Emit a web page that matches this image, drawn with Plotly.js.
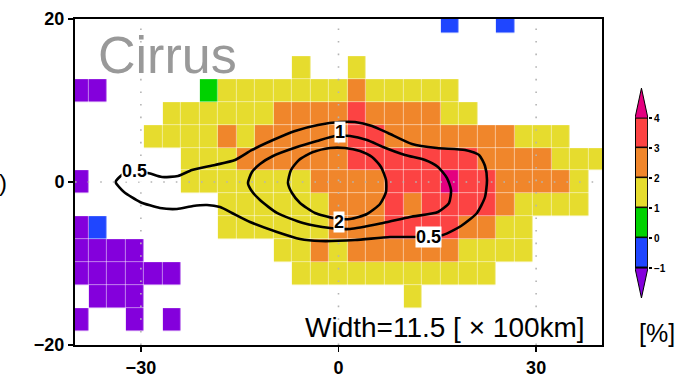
<!DOCTYPE html>
<html>
<head>
<meta charset="utf-8">
<script src="https://cdn.plot.ly/plotly-3.0.1.min.js"></script>
<style>
  html, body { margin: 0; padding: 0; background: #fff; }
  #chart { width: 682px; height: 377px; }
</style>
</head>
<body>
<div id="chart"></div>
<script>
// Composite anomaly [%] on a 2.8125-degree grid, relative to the system centre
const cellStep = 2.8125;
const colOffsets = [-14,-13,-12,-11,-10,-9,-8,-7,-6,-5,-4,-3,-2,-1,0,1,2,3,4,5,6,7,8,9,10,11,12,13,14];
const rowOffsets = [-7,-6,-5,-4,-3,-2,-1,0,1,2,3,4,5,6,7];

// class values (bin centres)
const P = -1.5, B = -0.5, G = 0.5, Y = 1.5, O = 2.5, R = 3.5, M = 4.5, n = null;

// rows from south (-7) to north (+7); columns from west (-14) to east (+14)
const rowS7 = [n,n,n,n,n,n,n,n,n,n,n,n,n,n,n,n,n,n,n,n,n,n,n,n,n,n,n,n,n];
const rowS6 = [P,n,n,P,n,P,n,n,n,n,n,n,n,n,n,n,n,n,n,n,n,n,n,n,n,n,n,n,n];
const rowS5 = [n,P,P,P,n,n,n,n,n,n,n,n,n,n,n,n,n,n,Y,n,n,n,n,n,n,n,n,n,n];
const rowS4 = [P,P,P,P,P,P,n,n,n,n,n,n,Y,Y,Y,Y,Y,Y,Y,Y,Y,Y,Y,n,n,n,n,n,n];
const rowS3 = [P,P,P,P,n,n,n,n,n,n,n,Y,Y,O,Y,O,O,O,O,O,O,Y,Y,Y,Y,n,n,n,n];
const rowS2 = [P,B,n,n,n,n,n,n,Y,Y,Y,Y,Y,Y,O,O,O,R,R,R,R,O,O,Y,Y,n,n,n,n];
const rowS1 = [n,n,n,n,n,n,n,n,Y,Y,Y,Y,Y,Y,O,O,O,R,O,R,R,R,R,O,Y,Y,Y,Y,n];
const row0  = [P,n,n,n,n,n,Y,Y,Y,Y,Y,Y,Y,O,O,O,O,R,R,R,M,R,R,O,O,O,O,Y,n];
const rowN1 = [n,n,n,n,n,n,Y,Y,Y,O,O,O,O,O,O,R,R,R,R,R,R,R,O,O,O,O,Y,Y,Y];
const rowN2 = [n,n,n,n,Y,Y,Y,Y,O,Y,O,O,O,O,O,R,R,O,O,O,O,O,O,O,Y,Y,Y,n,n];
const rowN3 = [n,n,n,n,n,Y,Y,Y,Y,Y,Y,O,O,O,O,R,O,O,O,O,Y,Y,n,n,n,n,n,n,n];
const rowN4 = [P,P,n,n,n,n,n,G,Y,Y,Y,Y,Y,Y,Y,O,Y,Y,Y,Y,Y,n,n,n,n,n,n,n,n];
const rowN5 = [n,n,n,n,n,n,n,n,n,n,n,n,Y,n,n,Y,n,n,n,n,n,n,n,n,n,n,n,n,n];
const rowN6 = [n,n,n,n,n,n,n,n,n,n,n,n,n,n,n,n,n,n,n,n,n,n,n,n,n,n,n,n,n];
const rowN7 = [n,n,n,n,n,n,n,n,n,n,n,n,n,n,n,n,n,n,n,n,B,n,n,B,n,n,n,n,n];

// contour lines of cloud frequency (0.5, 1, 2)
const c05x = [-33.78,-32.87,-30.89,-28.92,-26.79,-24.36,-22.24,-18.75,-15.71,-13.13,-9.94,-6.60,-3.11,0.23,2.50,5.09,7.51,11.16,14.95,19.20,21.33,22.24,22.54,22.24,21.02,18.60,15.86,12.37,7.82,2.50,-2.81,-5.84,-9.34,-13.43,-16.17,-17.99,-19.96,-22.09,-24.52,-27.10,-30.13,-32.56,-33.78,-33.78];
const c05y = [0.12,0.86,1.23,1.10,0.61,0.74,1.47,2.09,2.70,3.93,5.15,6.26,6.99,7.36,7.36,6.87,6.01,4.66,4.17,3.93,3.31,1.96,0.25,-1.84,-3.80,-5.40,-6.50,-6.75,-6.75,-7.12,-7.24,-6.99,-6.13,-4.91,-3.80,-3.07,-2.82,-2.94,-3.31,-3.19,-2.45,-1.23,-0.12,0.12];
const c1x = [-13.74,-13.13,-11.92,-9.94,-6.30,-3.26,-0.53,1.75,4.33,6.76,10.09,13.13,15.10,16.47,17.08,16.77,15.10,10.85,6.76,1.75,-1.29,-5.39,-9.34,-11.92,-13.28,-13.74];
const c1y = [-0.12,1.23,2.21,3.19,4.29,5.03,5.64,5.64,5.15,4.29,3.31,2.70,1.84,0.49,-0.98,-2.58,-3.68,-4.29,-5.03,-5.77,-5.64,-5.03,-3.80,-2.21,-0.98,-0.12];
const c2x = [-7.67,-7.21,-6.00,-3.87,-1.29,0.99,3.26,5.09,6.45,7.21,7.21,6.30,4.33,1.75,-0.83,-3.57,-5.84,-7.06,-7.67];
const c2y = [-0.12,1.47,2.70,3.68,4.17,4.17,3.80,3.07,1.84,0.25,-1.23,-2.70,-3.93,-4.54,-4.42,-3.80,-2.58,-1.35,-0.12];

// contour label text and positions on the lines
const labelText = ['0.5', '1', '2', '0.5'];
const labelX = [-30.9, 0.23, 0.08, 13.59];
const labelY = [1.35, 6.13, -4.91, -6.75];

// colour bar classes
const barLevels = [-0.5, 0.5, 1.5, 2.5, 3.5];
const barTicks = [-1, 0, 1, 2, 3, 4];

const classColors = ['#8400dc', '#1f46ff', '#00d200', '#e6dc2e', '#f0862b', '#fc4343', '#e4007f'];
const zMin = -2, zMax = 5;
const scale = [];
classColors.forEach((c, i) => {
  scale.push([i / classColors.length, c]);
  scale.push([(i + 1) / classColors.length, c]);
});

const xCentres = colOffsets.map(k => k * cellStep);
const yCentres = rowOffsets.map(j => j * cellStep);
const zGrid = [rowS7, rowS6, rowS5, rowS4, rowS3, rowS2, rowS1, row0, rowN1, rowN2, rowN3, rowN4, rowN5, rowN6, rowN7];

const contourLine = {color: '#000', width: 2.6, shape: 'spline', smoothing: 0.6};

const traces = [
  {
    type: 'heatmap', x: xCentres, y: yCentres, z: zGrid,
    colorscale: scale, zmin: zMin, zmax: zMax, showscale: false,
    xgap: 0.5, ygap: 0.5, hoverinfo: 'skip'
  },
  {type: 'scatter', mode: 'lines', x: c05x, y: c05y, line: contourLine, hoverinfo: 'skip', showlegend: false},
  {type: 'scatter', mode: 'lines', x: c1x, y: c1y, line: contourLine, hoverinfo: 'skip', showlegend: false},
  {type: 'scatter', mode: 'lines', x: c2x, y: c2y, line: contourLine, hoverinfo: 'skip', showlegend: false},
  // colour bar
  {
    type: 'heatmap', x: [0], y: barLevels, z: barLevels.map(v => [v]),
    colorscale: scale, zmin: zMin, zmax: zMax, showscale: false,
    xgap: 2, ygap: 1.5, xaxis: 'x2', yaxis: 'y2', hoverinfo: 'skip'
  },
  {
    type: 'scatter', mode: 'lines', x: [-0.5, 0.5, 0, -0.5], y: [-1, -1, -2, -1],
    fill: 'toself', fillcolor: classColors[0], line: {color: '#000', width: 1},
    xaxis: 'x2', yaxis: 'y2', hoverinfo: 'skip', showlegend: false
  },
  {
    type: 'scatter', mode: 'lines', x: [-0.5, 0.5, 0, -0.5], y: [4, 4, 5, 4],
    fill: 'toself', fillcolor: classColors[6], line: {color: '#000', width: 1},
    xaxis: 'x2', yaxis: 'y2', hoverinfo: 'skip', showlegend: false
  }
];

const tickFont = {family: 'Liberation Sans, Arial, sans-serif', size: 18, color: '#000', weight: 'bold'};
const dotLine = {color: '#b4b4b4', width: 1.6, dash: '1.6px,11px'};

const shapes = [-30, 0, 30].map(v => ({
  type: 'line', xref: 'x', yref: 'y', x0: v, x1: v, y0: -20, y1: 20, line: dotLine, layer: 'above'
}));
shapes.push({type: 'line', xref: 'x', yref: 'y', x0: -40, x1: 40, y0: 0, y1: 0, line: dotLine, layer: 'above'});
shapes.push({type: 'rect', xref: 'x2', yref: 'y2', x0: -0.5, x1: 0.5, y0: -1, y1: 4,
  fillcolor: '#000', line: {width: 0}, layer: 'below'});

const annotations = labelText.map((t, i) => ({
  x: labelX[i], y: labelY[i], xref: 'x', yref: 'y', text: t, showarrow: false,
  font: {family: 'Liberation Sans, Arial, sans-serif', size: 18, color: '#000', weight: 'bold'},
  bgcolor: '#fff', borderpad: 0
}));
annotations.push(
  {xref: 'paper', yref: 'paper', x: 0.036, y: 0.89, xanchor: 'left', yanchor: 'middle',
   text: 'Cirrus', showarrow: false,
   font: {family: 'Liberation Sans, Arial, sans-serif', size: 52, color: '#999999'}},
  {xref: 'paper', yref: 'paper', x: 0.873, y: 0.054, xanchor: 'right', yanchor: 'middle',
   text: 'Width=11.5 [ × 100km]', showarrow: false,
   font: {family: 'Liberation Sans, Arial, sans-serif', size: 28, color: '#000'}},
  {xref: 'paper', yref: 'paper', x: 0.9915, y: 0.037, xanchor: 'center', yanchor: 'middle',
   text: '[%]', showarrow: false,
   font: {family: 'Liberation Sans, Arial, sans-serif', size: 25, color: '#000'}},
  {xref: 'paper', yref: 'paper', x: -0.1227, y: 0.5, xanchor: 'center', yanchor: 'middle',
   text: ')', showarrow: false,
   font: {family: 'Liberation Sans, Arial, sans-serif', size: 24, color: '#000'}}
);

const layout = {
  width: 682, height: 377,
  margin: {l: 75, r: 20, t: 19, b: 32},
  paper_bgcolor: '#fff', plot_bgcolor: '#fff',
  showlegend: false,
  xaxis: {
    domain: [0, 0.8978], range: [-40, 40], tickvals: [-30, 0, 30],
    ticks: 'outside', ticklen: 5, tickwidth: 1.5, tickcolor: '#000',
    showline: true, mirror: true, linewidth: 2, linecolor: '#000',
    showgrid: false, zeroline: false, tickfont: tickFont, layer: 'above traces'
  },
  yaxis: {
    domain: [0, 1], range: [-20, 20], tickvals: [-20, 0, 20],
    ticks: 'outside', ticklen: 5, tickwidth: 1.5, tickcolor: '#000',
    showline: true, mirror: true, linewidth: 2, linecolor: '#000',
    showgrid: false, zeroline: false, tickfont: tickFont, layer: 'above traces'
  },
  xaxis2: {domain: [0.954, 0.976], anchor: 'y2', range: [-0.5, 0.5], visible: false, fixedrange: true},
  yaxis2: {
    domain: [0.144, 0.788], anchor: 'x2', range: [-2, 5], side: 'right',
    tickvals: barTicks, ticktext: barTicks.map(v => v < 0 ? '\u2212' + Math.abs(v) : String(v)),
    ticks: 'outside', ticklen: 3, tickwidth: 1.5, tickcolor: '#000',
    showline: false, showgrid: false, zeroline: false,
    tickfont: {family: 'Liberation Sans, Arial, sans-serif', size: 10, color: '#000', weight: 'bold'}
  },
  shapes: shapes,
  annotations: annotations
};

Plotly.newPlot('chart', traces, layout, {staticPlot: true, displayModeBar: false});
</script>
</body>
</html>
